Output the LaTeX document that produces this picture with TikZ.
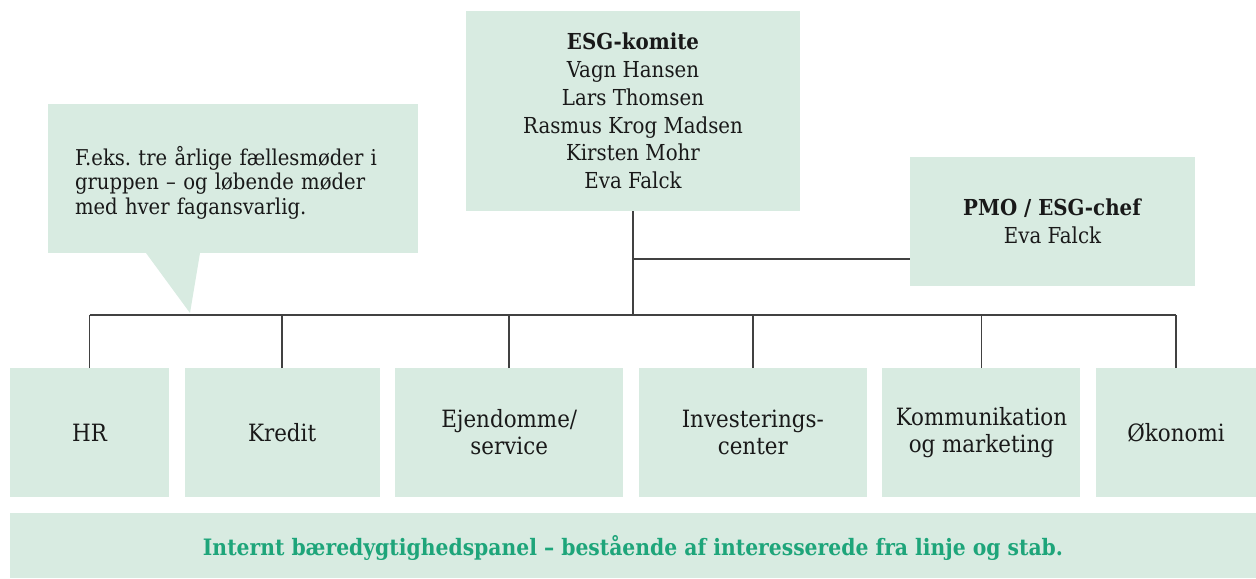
\documentclass[tikz,border=0pt]{standalone}
\usepackage{fontspec}
\setmainfont{DejaVu Serif Condensed}
\frenchspacing
\definecolor{mint}{RGB}{216, 235, 225}
\definecolor{accent}{RGB}{30, 165, 122}
\definecolor{ink}{RGB}{25, 25, 25}
\definecolor{linecolor}{RGB}{65, 65, 65}
\usetikzlibrary{positioning,calc}

\begin{document}
\begin{tikzpicture}[
            x=0.5pt, y=-0.5pt,
            orgbox/.style={
                rectangle, fill=mint, text=ink,
                inner sep=0pt, outer sep=0pt, align=center,
                font=\fontsize{11}{13.85}\selectfont
            },
            unitbox/.style={
                orgbox,
                minimum height=64.5pt,
                font=\fontsize{11.9}{13.6}\selectfont
            },
            orgline/.style={draw=linecolor, line width=0.75pt},
            node distance=7.8pt
        ]
            \useasboundingbox (0,0) rectangle (1256,578);

            % top of the chart
            \node [orgbox, minimum width=167pt, minimum height=100pt] (komite) at (633,111)
                {\textbf{ESG-komite}\\Vagn Hansen\\Lars Thomsen\\Rasmus Krog Madsen\\Kirsten Mohr\\Eva Falck};
            \node [orgbox, minimum width=142.5pt, minimum height=64.5pt] (pmo) at (1052.5,221.5)
                {\textbf{PMO / ESG-chef}\\Eva Falck};

            % speech bubble
            \node [orgbox, minimum height=74.5pt, inner xsep=13.5pt, text width=158pt, align=left,
                   font=\fontsize{10.9}{12.3}\selectfont] (note) at (233,178.5)
                {\rule{0pt}{13.8pt}F.eks. tre årlige fællesmøder i\\gruppen – og løbende møder\\med hver fagansvarlig.};
            \coordinate (tipa) at ($(note.south west)+(98,0)$);
            \coordinate (tipb) at ($(note.south west)+(152,0)$);
            \coordinate (tip)  at ($(note.south west)+(142,60)$);
            \fill [mint] (tipa) -- (tipb) -- (tip) -- cycle;

            % departments
            \node [unitbox, minimum width=79.5pt] (hr) at (89.5,432.5) {HR};
            \node [unitbox, minimum width=97.5pt, right=of hr] (kredit) {Kredit};
            \node [unitbox, minimum width=114pt, right=of kredit] (ejendomme) {Ejendomme/\\service};
            \node [unitbox, minimum width=114pt, right=of ejendomme] (invest) {Investerings-\\center};
            \node [unitbox, minimum width=99pt, right=of invest] (komm) {Kommunikation\\og marketing};
            \node [unitbox, minimum width=80pt, right=of komm] (okonomi) {Økonomi};

            % panel
            \node [orgbox, minimum width=623pt, minimum height=32.5pt, text=accent,
                   text height=12.2pt, text depth=2.3pt,
                   font=\bfseries\fontsize{11.3}{12}\selectfont] (panel) at (633,545.5)
                {Internt bæredygtighedspanel – bestående af interesserede fra linje og stab.};

            \coordinate (bus) at (633,315);
            \coordinate (staff) at ($(pmo.south west)+(0,-27)$);

            \draw[orgline] (komite.south) -- (bus);
            \draw[orgline] (komite.south |- staff) -- (staff);
            \draw[orgline] (hr.north |- bus) -- (okonomi.north |- bus);
            \foreach \unit in {hr,kredit,ejendomme,invest,komm,okonomi}
                \draw[orgline] (\unit.north) -- (\unit.north |- bus);

        \end{tikzpicture}
\end{document}
